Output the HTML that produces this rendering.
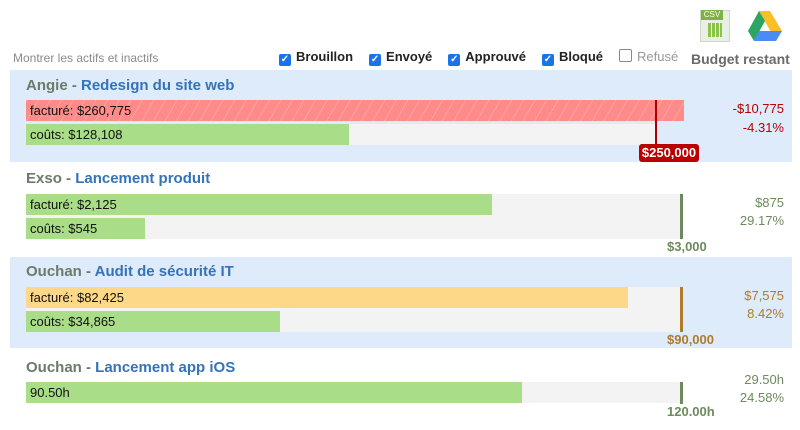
<!DOCTYPE html><html><head><meta charset="utf-8"><style>
body{margin:0;width:800px;height:430px;background:#fff;font-family:"Liberation Sans",sans-serif;position:relative;overflow:hidden}
.a{position:absolute}
.panel{position:absolute;left:10px;width:782px}
.blue{background:#ddebfb}
.track{position:absolute;background:#f3f3f3;height:21px}
.bar{position:absolute;height:21px;font-size:13px;line-height:21px;padding-left:4px;box-sizing:border-box;color:#111;white-space:nowrap}
.g{background:#a9dd88}
.t{position:absolute;font-size:15px;font-weight:bold;color:#6d7a6a}
.t span{color:#3573b7}
.r{position:absolute;right:16px;font-size:13px;text-align:right;line-height:18px}
.cb{display:inline-block;width:12px;height:12px;border-radius:2px;background:#1a73e8;color:#fff;font-size:10px;line-height:12px;text-align:center;vertical-align:-1px;margin-right:5px}
.lbl{position:absolute;font-size:13px;font-weight:bold}
</style></head><body>
<div class="a" style="left:700px;top:10px;width:28px;height:30px;background:#e8efe4;border:1px solid #cfd8cb"></div>
<div class="a" style="left:701px;top:10px;width:22px;height:10px;background:#7cb342;color:#fff;font-size:8px;line-height:10px;text-align:center">CSV</div>
<div class="a" style="left:708px;top:23px;width:14px;height:14px;background:repeating-linear-gradient(90deg,#8bc34a 0 3px,#fff 3px 4px)"></div>
<svg class="a" style="left:748px;top:11px" width="34" height="30"><polygon points="11,0 22,0 34,20 28,30" fill="#f6c026"/><polygon points="11,0 0,20 6,30 17,10" fill="#2da562"/><polygon points="6,30 28,30 34,20 11,20" fill="#4a8bf4"/></svg>
<div class="a" style="left:13px;top:51px;font-size:12px;color:#8a8a8a">Montrer les actifs et inactifs</div>
<div class="a" style="left:279px;top:49px;font-size:13px;font-weight:bold;color:#222;white-space:nowrap">
<span class="cb">✓</span>Brouillon<span style="display:inline-block;width:16px"></span><span class="cb">✓</span>Envoyé<span style="display:inline-block;width:16px"></span><span class="cb">✓</span>Approuvé<span style="display:inline-block;width:16px"></span><span class="cb">✓</span>Bloqué<span style="display:inline-block;width:16px"></span><span class="cb" style="background:#fff;border:1px solid #888;width:11px;height:11px"></span><span style="font-weight:normal;color:#999">Refusé</span></div>
<div class="a" style="left:691px;top:51px;font-size:14px;font-weight:bold;color:#6a6a6a">Budget restant</div>

<div class="panel blue" style="top:70px;height:92px"></div>
<div class="t" style="left:26px;top:77px">Angie - <span>Redesign du site web</span></div>
<div class="track" style="left:26px;top:124px;width:630px"></div>
<div class="bar" style="left:26px;top:100px;width:658px;background:repeating-linear-gradient(-60deg,#ff8a8a 0 9px,#ffa3a3 9px 10px)">facturé: $260,775</div>
<div class="bar g" style="left:26px;top:124px;width:323px">coûts: $128,108</div>
<div class="a" style="left:655px;top:100px;width:2px;height:46px;background:#a00"></div>
<div class="lbl" style="left:639px;top:144px;width:60px;height:18px;background:#b00;color:#fff;border-radius:3px;text-align:center;line-height:18px">$250,000</div>
<div class="r" style="top:99px;line-height:19px;color:#b00">-$10,775<br>-4.31%</div>

<div class="t" style="left:26px;top:170px">Exso - <span>Lancement produit</span></div>
<div class="track" style="left:26px;top:194px;width:655px;height:45px"></div>
<div class="bar g" style="left:26px;top:194px;width:466px">facturé: $2,125</div>
<div class="bar g" style="left:26px;top:218px;width:119px">coûts: $545</div>
<div class="a" style="left:680px;top:194px;width:3px;height:45px;background:#6d8a5d"></div>
<div class="lbl" style="left:667px;top:239px;color:#6d8a5d">$3,000</div>
<div class="r" style="top:194px;color:#6d8a5d">$875<br>29.17%</div>

<div class="panel blue" style="top:257px;height:91px"></div>
<div class="t" style="left:26px;top:263px">Ouchan - <span>Audit de sécurité IT</span></div>
<div class="track" style="left:26px;top:287px;width:655px;height:45px"></div>
<div class="bar" style="left:26px;top:287px;width:602px;background:#fdd889">facturé: $82,425</div>
<div class="bar g" style="left:26px;top:311px;width:254px">coûts: $34,865</div>
<div class="a" style="left:680px;top:287px;width:3px;height:45px;background:#b07a2a"></div>
<div class="lbl" style="left:667px;top:332px;color:#b07a2a">$90,000</div>
<div class="r" style="top:287px;color:#b07a2a">$7,575<br>8.42%</div>

<div class="t" style="left:26px;top:359px">Ouchan - <span>Lancement app iOS</span></div>
<div class="track" style="left:26px;top:382px;width:655px"></div>
<div class="bar g" style="left:26px;top:382px;width:496px">90.50h</div>
<div class="a" style="left:680px;top:382px;width:3px;height:22px;background:#6d8a5d"></div>
<div class="lbl" style="left:667px;top:404px;color:#6d8a5d">120.00h</div>
<div class="r" style="top:371px;color:#6d8a5d">29.50h<br>24.58%</div>
</body></html>
